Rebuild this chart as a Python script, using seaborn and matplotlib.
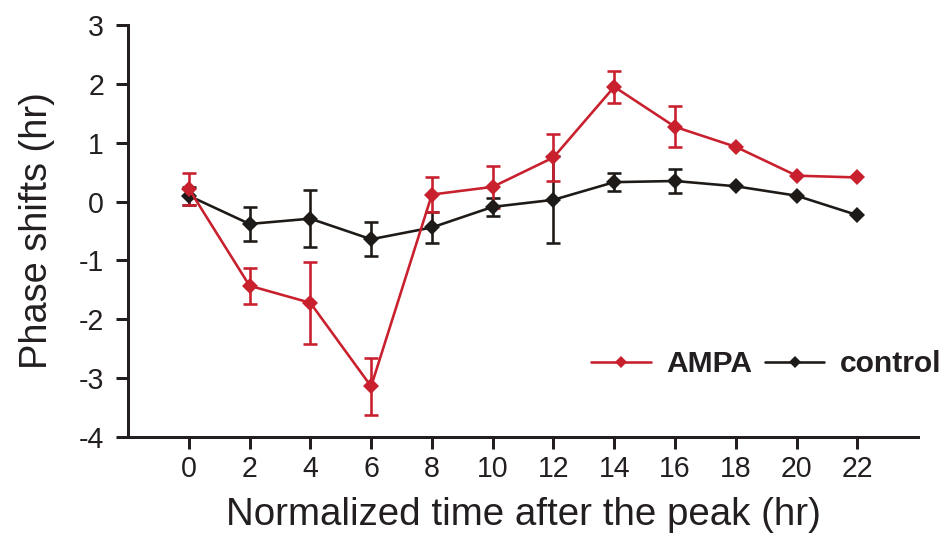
import pandas as pd
import numpy as np
import matplotlib.pyplot as plt
import seaborn as sns

# valeurs
hours = [0, 2, 4, 6, 8, 10, 12, 14, 16, 18, 20, 22]
ampa_mean = [0.22, -1.43, -1.72, -3.14, 0.12, 0.25, 0.75, 1.95, 1.27, 0.93, 0.44, 0.41]
ampa_err = [0.27, 0.31, 0.70, 0.48, 0.30, 0.36, 0.40, 0.27, 0.35, 0.0, 0.0, 0.0]
control_mean = [0.10, -0.38, -0.29, -0.64, -0.44, -0.09, 0.03, 0.33, 0.35, 0.26, 0.10, -0.23]
control_err = [0.15, 0.29, 0.49, 0.29, 0.27, 0.15, 0.74, 0.15, 0.21, 0.0, 0.0, 0.0]

red = '#C9202E'
black = '#1E1A17'
ink = '#231F20'

df = pd.DataFrame({
    'hour': hours * 2,
    'shift': control_mean + ampa_mean,
    'group': ['control'] * len(hours) + ['AMPA'] * len(hours),
})

sns.set_style('ticks')
plt.rcParams['font.family'] = ['Liberation Sans', 'DejaVu Sans']
plt.rcParams['axes.unicode_minus'] = False

fig = plt.figure(figsize=(944 / 72, 546 / 72), dpi=72)
ax = fig.add_axes([0.1356, 0.1996, 0.837, 0.7546])

# barres d'erreur d'abord
for mean, err, col in [(control_mean, control_err, black), (ampa_mean, ampa_err, red)]:
    m = np.array(err) > 0
    ax.errorbar(np.array(hours)[m], np.array(mean)[m], yerr=np.array(err)[m],
                fmt='none', ecolor=col, elinewidth=2.6, capsize=7, capthick=2.6, zorder=2)

sns.lineplot(data=df, x='hour', y='shift', hue='group', hue_order=['control', 'AMPA'],
             palette={'control': black, 'AMPA': red}, marker='D', markersize=11.5,
             markeredgewidth=0, linewidth=2.6, errorbar=None, ax=ax, zorder=3)

ax.set_xlim(-2, 24)
ax.set_ylim(-4, 3)
ax.set_xticks(hours)
ax.set_yticks(range(-4, 4))
ax.tick_params(direction='out', length=12, width=3, labelsize=28.5, colors=ink)
ax.tick_params(axis='x', pad=6)
ax.tick_params(axis='y', pad=12)
for s in ['left', 'bottom']:
    ax.spines[s].set_linewidth(3)
    ax.spines[s].set_color(ink)
sns.despine(ax=ax)

ax.set_xlabel('Normalized time after the peak (hr)', fontsize=38.5, color=ink, labelpad=14)
ax.set_ylabel('Phase shifts (hr)', fontsize=38, color=ink, labelpad=24)

handles, labels = ax.get_legend_handles_labels()
order = [labels.index('AMPA'), labels.index('control')]
leg = ax.legend([handles[i] for i in order], [labels[i] for i in order],
                ncol=2, frameon=False, loc='center right', bbox_to_anchor=(1.03, 0.177),
                handlelength=1.97, columnspacing=0.43, handletextpad=0.53, markerscale=0.75,
                borderpad=0, borderaxespad=0, prop={'size': 30, 'weight': 'bold'})
for t in leg.get_texts():
    t.set_color(ink)

plt.savefig('out.png', dpi=72)
plt.close()
